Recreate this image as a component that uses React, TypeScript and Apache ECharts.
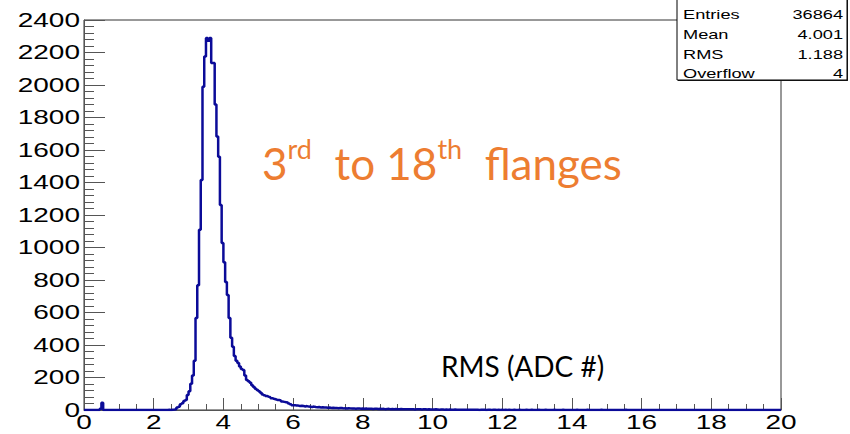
import React, { useEffect, useRef } from "react";
import * as echarts from "echarts";

// ---- data ----
const BIN_WIDTH = 0.05;
const X_MIN = 0;
const X_MAX = 20;
// counts per 0.05-wide bin, one row per unit of RMS (ADC #)
const ROW_0 = [0, 0, 0, 0, 0, 0, 0, 0, 0, 8, 45, 0, 0, 0, 0, 0, 0, 0, 0, 0];
const ROW_1 = [0, 0, 0, 0, 0, 0, 0, 0, 0, 0, 0, 0, 0, 0, 0, 0, 0, 0, 0, 0];
const ROW_2 = [0, 0, 0, 0, 0, 0, 0, 0, 1, 0, 2, 3, 5, 15, 20, 35, 41, 55, 62, 92];
const ROW_3 = [116, 162, 212, 303, 566, 768, 1110, 1415, 1990, 2175, 2290, 2272, 2290, 2135, 2135, 1880, 1683, 1558, 1262, 1028];
const ROW_4 = [909, 788, 707, 566, 444, 390, 333, 303, 290, 267, 252, 246, 212, 185, 177, 167, 152, 141, 131, 123];
const ROW_5 = [116, 106, 96, 91, 86, 82, 79, 73, 69, 66, 62, 62, 59, 52, 50, 48, 46, 40, 35, 30];
const ROW_6 = [30, 28, 27, 25, 26, 24, 22, 24, 21, 20, 19, 21, 18, 17, 18, 16, 17, 15, 16, 14];
const ROW_7 = [15, 13, 14, 12, 13, 11, 12, 12, 10, 11, 9, 11, 10, 9, 10, 8, 9, 10, 8, 9];
const ROW_8 = [8, 9, 7, 8, 8, 6, 7, 8, 6, 7, 6, 7, 5, 6, 7, 5, 6, 5, 6, 5];
const ROW_9 = [5, 6, 4, 5, 5, 4, 5, 4, 5, 3, 4, 5, 4, 3, 4, 4, 3, 4, 3, 3];
const ROW_10 = [3, 4, 3, 2, 3, 3, 2, 3, 2, 3, 2, 2, 3, 1, 2, 2, 1, 2, 2, 1];
const ROW_11 = [2, 1, 1, 2, 1, 1, 0, 1, 1, 2, 0, 1, 1, 0, 1, 1, 0, 1, 0, 1];
const ROW_12 = [0, 1, 0, 1, 0, 0, 1, 0, 0, 1, 0, 0, 0, 1, 0, 0, 1, 0, 0, 0];
const ROW_13 = [1, 0, 0, 0, 1, 0, 0, 0, 0, 1, 0, 0, 0, 0, 1, 0, 0, 0, 0, 0];
const ROW_14 = [0, 0, 1, 0, 0, 0, 0, 0, 1, 0, 0, 0, 0, 0, 0, 0, 1, 0, 0, 0];
const ROW_15 = [0, 0, 0, 0, 0, 0, 0, 0, 0, 0, 1, 0, 0, 0, 0, 0, 0, 0, 0, 0];
const ROW_16 = [0, 0, 0, 0, 0, 0, 0, 0, 0, 0, 0, 0, 0, 0, 0, 0, 0, 0, 0, 0];
const ROW_17 = [0, 0, 0, 0, 0, 0, 0, 0, 0, 0, 0, 0, 0, 0, 0, 0, 0, 0, 0, 0];
const ROW_18 = [0, 0, 0, 0, 0, 0, 0, 0, 0, 0, 0, 0, 0, 0, 0, 0, 0, 0, 0, 0];
const ROW_19 = [0, 0, 0, 0, 0, 0, 0, 0, 0, 0, 0, 0, 0, 0, 0, 0, 0, 0, 0, 0];
const COUNTS: number[] = [
  ...ROW_0, ...ROW_1, ...ROW_2, ...ROW_3, ...ROW_4, ...ROW_5, ...ROW_6,
  ...ROW_7, ...ROW_8, ...ROW_9, ...ROW_10, ...ROW_11, ...ROW_12, ...ROW_13,
  ...ROW_14, ...ROW_15, ...ROW_16, ...ROW_17, ...ROW_18, ...ROW_19,
];

const X_TICKS = [0, 2, 4, 6, 8, 10, 12, 14, 16, 18, 20];
const Y_TICKS = [0, 200, 400, 600, 800, 1000, 1200, 1400, 1600, 1800, 2000, 2200, 2400];
const STATS_LABELS = ["Entries", "Mean", "RMS", "Overflow"];
const STATS_VALUES = ["36864", "4.001", "1.188", "4"];
const AXIS_TITLE = "RMS (ADC #)";

const LINE_COLOR = "#0b0b98";
const AXIS_COLOR = "#555555";
const ORANGE = "#ED7D31";
const STRETCH = 1.4;

export default function App() {
  const ref = useRef<HTMLDivElement>(null);

  useEffect(() => {
    if (!ref.current) return;
    const chart = echarts.init(ref.current, undefined, { renderer: "svg" });

    const histData: [number, number][] = COUNTS.map((c, i) => [
      Math.round(i * BIN_WIDTH * 100) / 100,
      c,
    ]);
    histData.push([X_MAX, COUNTS[COUNTS.length - 1]]);

    chart.setOption({
      animation: false,
      backgroundColor: "#ffffff",
      grid: {
        left: 84,
        right: 69,
        top: 20,
        bottom: 24,
        show: true,
        borderColor: "#333333",
        borderWidth: 1,
        backgroundColor: "transparent",
      },
      xAxis: {
        type: "value",
        min: X_MIN,
        max: X_MAX,
        interval: 2,
        axisLine: { show: true, lineStyle: { color: AXIS_COLOR, width: 1 } },
        axisTick: { show: true, inside: true, length: 12, lineStyle: { color: AXIS_COLOR, width: 1 } },
        minorTick: { show: true, splitNumber: 4, length: 6, lineStyle: { color: AXIS_COLOR, width: 1 } },
        axisLabel: { show: false },
        splitLine: { show: false },
      },
      yAxis: {
        type: "value",
        min: 0,
        max: 2400,
        interval: 200,
        axisLine: { show: true, lineStyle: { color: AXIS_COLOR, width: 1 } },
        axisTick: { show: true, inside: true, length: 21, lineStyle: { color: AXIS_COLOR, width: 1 } },
        minorTick: { show: true, splitNumber: 5, length: 10, lineStyle: { color: AXIS_COLOR, width: 1 } },
        axisLabel: { show: false },
        splitLine: { show: false },
      },
      series: [
        {
          type: "line",
          step: "end",
          data: histData,
          symbol: "none",
          clip: true,
          lineStyle: { color: LINE_COLOR, width: 2.5 },
          z: 3,
        },
      ],
    });

    const labelFont = "'Liberation Sans', Arial, Helvetica, sans-serif";
    const elements: any[] = [];

    X_TICKS.forEach((v) => {
      const p = chart.convertToPixel({ gridIndex: 0 }, [v, 0]) as number[];
      elements.push({
        type: "text",
        x: p[0],
        y: p[1] + 2,
        scaleX: STRETCH,
        z: 10,
        style: {
          text: String(v),
          fontSize: 20,
          fontFamily: labelFont,
          fill: "#000000",
          align: "center",
          verticalAlign: "top",
        },
      });
    });

    Y_TICKS.forEach((v) => {
      const p = chart.convertToPixel({ gridIndex: 0 }, [X_MIN, v]) as number[];
      elements.push({
        type: "text",
        x: p[0] - 4,
        y: p[1],
        scaleX: STRETCH,
        z: 10,
        style: {
          text: String(v),
          fontSize: 20,
          fontFamily: labelFont,
          fill: "#000000",
          align: "right",
          verticalAlign: "middle",
        },
      });
    });

    // stats box
    elements.push({
      type: "rect",
      z: 20,
      shape: { x: 678, y: -2, width: 170, height: 83 },
      style: { fill: "#222222" },
    });
    elements.push({
      type: "rect",
      z: 21,
      shape: { x: 677, y: -2, width: 170, height: 82 },
      style: { fill: "#ffffff", stroke: "#000000", lineWidth: 1 },
    });
    const rowY = [14, 34, 54, 73];
    STATS_LABELS.forEach((lab, i) => {
      elements.push({
        type: "text",
        x: 683,
        y: rowY[i],
        scaleX: STRETCH,
        z: 22,
        style: {
          text: lab,
          fontSize: 13,
          fontFamily: labelFont,
          fill: "#000000",
          align: "left",
          verticalAlign: "middle",
        },
      });
      elements.push({
        type: "text",
        x: 843,
        y: rowY[i],
        scaleX: STRETCH,
        z: 22,
        style: {
          text: STATS_VALUES[i],
          fontSize: 13,
          fontFamily: labelFont,
          fill: "#000000",
          align: "right",
          verticalAlign: "middle",
        },
      });
    });

    // annotation texts
    elements.push({
      type: "text",
      x: 262,
      y: 160,
      z: 15,
      style: {
        text: "{n|3}{s|rd}{n|  to 18}{s|th}{n|  flanges}",
        align: "left",
        verticalAlign: "middle",
        rich: {
          n: { fontSize: 44, fontFamily: "Lato, 'Open Sans', sans-serif", fill: ORANGE, lineHeight: 50, verticalAlign: "bottom" },
          s: { fontSize: 27, fontFamily: "Lato, 'Open Sans', sans-serif", fill: ORANGE, lineHeight: 27, verticalAlign: "top" },
        },
      },
    });
    elements.push({
      type: "text",
      x: 441,
      y: 366,
      z: 15,
      style: {
        text: AXIS_TITLE,
        fontSize: 28,
        fontFamily: "Lato, 'Open Sans', sans-serif",
        fill: "#000000",
        align: "left",
        verticalAlign: "middle",
      },
    });

    chart.setOption({ graphic: { elements } });

    return () => {
      chart.dispose();
    };
  }, []);

  return (
    <div
      ref={ref}
      style={{ position: "fixed", left: 0, top: 0, width: 850, height: 434, background: "#fff" }}
    />
  );
}
